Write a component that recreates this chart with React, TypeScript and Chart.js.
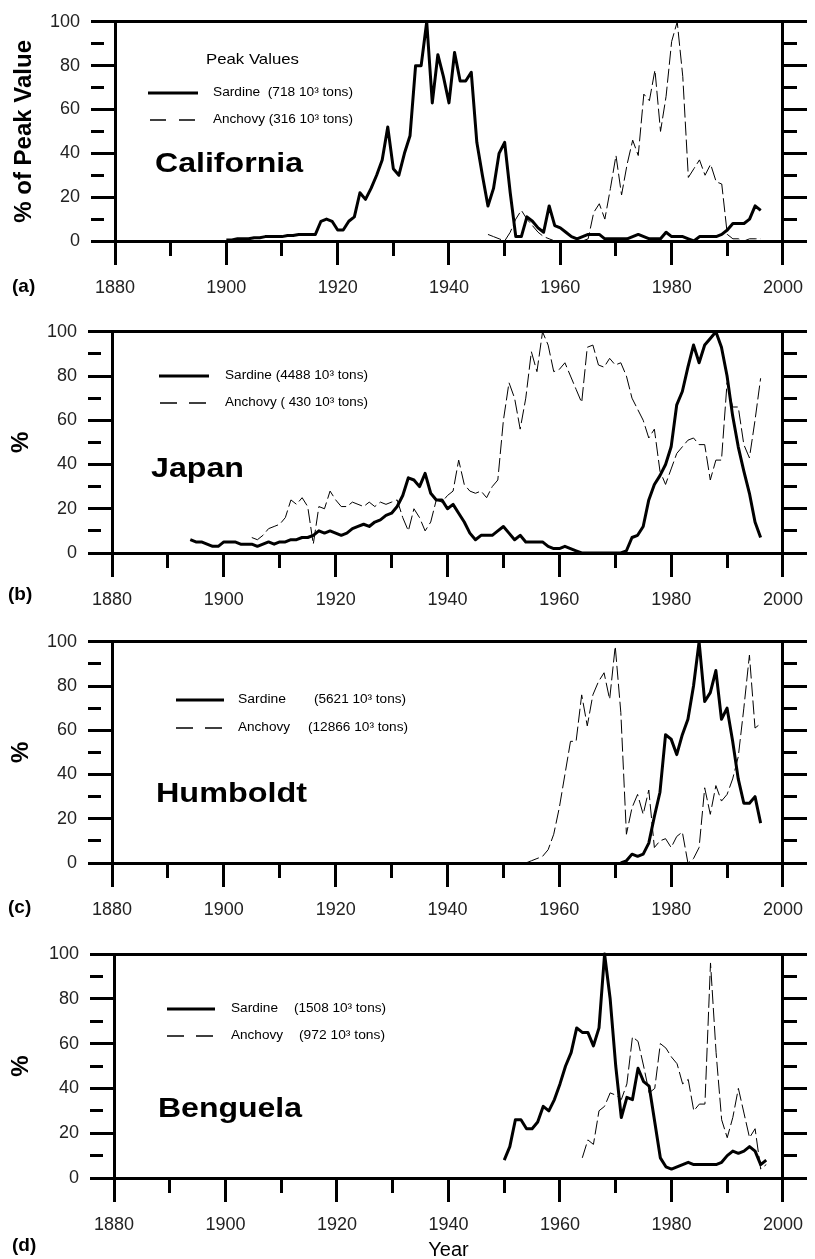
import React, { useEffect, useRef } from 'react';
import { Chart, registerables } from 'chart.js';

Chart.register(...registerables);

const FONT = '"Liberation Sans", Arial, Helvetica, sans-serif';

// ---------- axis values ----------
const X_MIN = 1880;
const X_MAX = 2000;
const X_STEP = 10;
const X_LABEL_STEP = 20;
const Y_MIN = 0;
const Y_MAX = 100;
const Y_STEP = 10;
const Y_LABEL_STEP = 20;

// ---------- (a) California ----------
const caSardineStart = 1900;
const caSardine = [
  0.5, 0.5, 1, 1, 1, 1.5, 1.5, 2, 2, 2,
  2, 2.5, 2.5, 3, 3, 3, 3, 9, 10, 9,
  5, 5, 9, 11, 22, 19, 24, 30, 37, 52,
  33, 30, 40, 48, 80, 80, 100, 63, 85, 75,
  63, 86, 73, 73, 77, 45, 30, 16, 24, 40,
  45, 22, 2, 2, 11, 9, 6, 4, 16, 7,
  6, 4, 2, 1, 2, 3, 3, 3, 1, 1,
  1, 1, 1, 2, 3, 2, 1, 1, 1, 4,
  2, 2, 2, 1, 0, 2, 2, 2, 2, 3,
  5, 8, 8, 8, 10, 16, 14,
];
const caAnchovyStart = 1947;
const caAnchovy = [
  3, 2, 1, 0, 4, 10, 14, 10, 7, 4,
  2, 1, 0, 0, 0, 0, 0, 0, 1, 13,
  17, 10, 24, 39, 21, 35, 46, 39, 67, 64,
  78, 50, 66, 91, 100, 75, 29, 33, 37, 30,
  35, 27, 26, 3, 1, 1, 0, 1, 1, 1,
];

// ---------- (b) Japan ----------
const jpSardineStart = 1894;
const jpSardine = [
  6, 5, 5, 4, 3, 3, 5, 5, 5, 4,
  4, 4, 3, 4, 5, 4, 5, 5, 6, 6,
  7, 7, 8, 10, 9, 10, 9, 8, 9, 11,
  12, 13, 12, 14, 15, 17, 18, 21, 26, 34,
  33, 30, 36, 27, 24, 24, 20, 22, 18, 14,
  9, 6, 8, 8, 8, 10, 12, 9, 6, 8,
  5, 5, 5, 5, 3, 2, 2, 3, 2, 1,
  0, 0, 0, 0, 0, 0, 0, 0, 1, 7,
  8, 12, 24, 31, 35, 40, 48, 67, 73, 84,
  94, 86, 94, 97, 100, 93, 80, 62, 48, 37,
  27, 14, 7,
];
const jpAnchovyStart = 1905;
const jpAnchovy = [
  7, 6, 8, 11, 12, 13, 16, 24, 22, 25,
  21, 4, 21, 20, 28, 24, 21, 21, 23, 22,
  21, 23, 21, 23, 22, 23, 24, 16, 10, 20,
  16, 10, 14, 24, 23, 26, 28, 42, 31, 28,
  27, 28, 25, 30, 33, 60, 77, 70, 56, 70,
  91, 82, 100, 94, 82, 83, 86, 80, 74, 68,
  93, 94, 85, 84, 88, 85, 86, 80, 70, 65,
  60, 52, 56, 37, 31, 38, 45, 48, 51, 52,
  49, 49, 33, 42, 42, 77, 66, 66, 49, 43,
  60, 79,
];

// ---------- (c) Humboldt ----------
const huSardineStart = 1971;
const huSardine = [
  0, 1, 4, 3, 4, 9, 21, 32, 58, 56,
  49, 58, 65, 80, 100, 73, 77, 87, 65, 70,
  55, 38, 27, 27, 30, 18,
];
const huAnchovyStart = 1954;
const huAnchovy = [
  0, 1, 2, 3, 6, 13, 25, 40, 55, 55,
  76, 62, 76, 82, 86, 74, 98, 68, 13, 25,
  31, 22, 33, 7, 10, 11, 7, 12, 14, 0,
  2, 7, 34, 22, 35, 28, 31, 38, 48, 70,
  94, 61, 63,
];

// ---------- (d) Benguela ----------
const beSardineStart = 1950;
const beSardine = [
  8, 14, 26, 26, 22, 22, 25, 32, 30, 35,
  42, 50, 56, 67, 65, 65, 59, 67, 100, 80,
  50, 27, 36, 35, 49, 43, 41, 25, 9, 5,
  4, 5, 6, 7, 6, 6, 6, 6, 6, 7,
  10, 12, 11, 12, 14, 12, 6, 8,
];
const beAnchovyStart = 1964;
const beAnchovy = [
  9, 17, 15, 30, 32, 38, 37, 35, 42, 63,
  61, 50, 38, 40, 60, 58, 54, 51, 42, 44,
  30, 33, 33, 96, 56, 26, 18, 27, 40, 29,
  18, 22, 4, 6,
];

// ---------- legend / label texts ----------
const legendTitleA = 'Peak Values';
const regionNames = ['California', 'Japan', 'Humboldt', 'Benguela'];
const panelLetters = ['(a)', '(b)', '(c)', '(d)'];

type TextItem = {
  text: string;
  x: number;
  y: number;
  size: number;
  bold?: boolean;
  width?: number;
  baseline?: CanvasTextBaseline;
};
type LineItem = { x1: number; x2: number; y: number; w: number; dash?: number[] };

type Panel = {
  top: number;
  height: number;
  plotTop: number;
  plotBottom: number;
  left: number;
  right: number;
  yTitle: string;
  yTitlePad: number;
  xTitle?: string;
  sardineStart: number;
  sardine: number[];
  anchovyStart: number;
  anchovy: number[];
  texts: TextItem[];
  lines: LineItem[];
};

const toPoints = (start: number, vals: number[]) =>
  vals.map((v, i) => ({ x: start + i, y: v }));

const panels: Panel[] = [
  {
    top: 0,
    height: 310,
    plotTop: 17,
    plotBottom: 241,
    left: 115,
    right: 791,
    yTitle: '% of Peak Value',
    yTitlePad: 10,
    sardineStart: caSardineStart,
    sardine: caSardine,
    anchovyStart: caAnchovyStart,
    anchovy: caAnchovy,
    texts: [
      { text: legendTitleA, x: 206, y: 60, size: 15, width: 93 },
      { text: 'Sardine  (718 10³ tons)', x: 213, y: 93, size: 12, width: 140 },
      { text: 'Anchovy (316 10³ tons)', x: 213, y: 120, size: 12, width: 140 },
      { text: regionNames[0], x: 155, y: 172, size: 28, bold: true, width: 148, baseline: 'alphabetic' },
      { text: panelLetters[0], x: 12, y: 287, size: 19, bold: true },
    ],
    lines: [
      { x1: 148, x2: 198, y: 93, w: 3 },
      { x1: 150, x2: 198, y: 120, w: 1.5, dash: [16, 13] },
    ],
  },
  {
    top: 310,
    height: 310,
    plotTop: 329,
    plotBottom: 553,
    left: 112,
    right: 789,
    yTitle: '%',
    yTitlePad: 7,
    sardineStart: jpSardineStart,
    sardine: jpSardine,
    anchovyStart: jpAnchovyStart,
    anchovy: jpAnchovy,
    texts: [
      { text: 'Sardine (4488 10³ tons)', x: 225, y: 376, size: 12, width: 143 },
      { text: 'Anchovy ( 430 10³ tons)', x: 225, y: 403, size: 12, width: 143 },
      { text: regionNames[1], x: 151, y: 477, size: 28, bold: true, width: 93, baseline: 'alphabetic' },
      { text: panelLetters[1], x: 8, y: 595, size: 19, bold: true },
    ],
    lines: [
      { x1: 159, x2: 209, y: 376, w: 3 },
      { x1: 160, x2: 209, y: 403, w: 1.5, dash: [17, 12] },
    ],
  },
  {
    top: 620,
    height: 310,
    plotTop: 639,
    plotBottom: 863,
    left: 112,
    right: 789,
    yTitle: '%',
    yTitlePad: 7,
    sardineStart: huSardineStart,
    sardine: huSardine,
    anchovyStart: huAnchovyStart,
    anchovy: huAnchovy,
    texts: [
      { text: 'Sardine', x: 238, y: 700, size: 12, width: 48 },
      { text: '(5621 10³ tons)', x: 314, y: 700, size: 12, width: 92 },
      { text: 'Anchovy', x: 238, y: 728, size: 12, width: 52 },
      { text: '(12866 10³ tons)', x: 308, y: 728, size: 12, width: 100 },
      { text: regionNames[2], x: 156, y: 802, size: 28, bold: true, width: 151, baseline: 'alphabetic' },
      { text: panelLetters[2], x: 8, y: 908, size: 19, bold: true },
    ],
    lines: [
      { x1: 176, x2: 224, y: 700, w: 3 },
      { x1: 176, x2: 224, y: 728, w: 1.5, dash: [17, 12] },
    ],
  },
  {
    top: 930,
    height: 329,
    plotTop: 954,
    plotBottom: 1178,
    left: 114,
    right: 791,
    yTitle: '%',
    yTitlePad: 7,
    xTitle: 'Year',
    sardineStart: beSardineStart,
    sardine: beSardine,
    anchovyStart: beAnchovyStart,
    anchovy: beAnchovy,
    texts: [
      { text: 'Sardine', x: 231, y: 1009, size: 12, width: 47 },
      { text: '(1508 10³ tons)', x: 294, y: 1009, size: 12, width: 92 },
      { text: 'Anchovy', x: 231, y: 1036, size: 12, width: 52 },
      { text: '(972 10³ tons)', x: 299, y: 1036, size: 12, width: 86 },
      { text: regionNames[3], x: 158, y: 1117, size: 28, bold: true, width: 144, baseline: 'alphabetic' },
      { text: panelLetters[3], x: 12, y: 1246, size: 19, bold: true },
    ],
    lines: [
      { x1: 167, x2: 215, y: 1009, w: 3 },
      { x1: 167, x2: 215, y: 1036, w: 1.5, dash: [17, 12] },
    ],
  },
];

const annotationPlugin = (p: Panel) => ({
  id: 'panelAnnotations',
  afterDraw(chart: any) {
    const ctx: CanvasRenderingContext2D = chart.ctx;
    ctx.save();
    ctx.fillStyle = '#000';
    ctx.strokeStyle = '#000';
    for (const l of p.lines) {
      ctx.beginPath();
      ctx.setLineDash(l.dash || []);
      ctx.lineWidth = l.w;
      ctx.moveTo(l.x1, l.y - p.top);
      ctx.lineTo(l.x2, l.y - p.top);
      ctx.stroke();
    }
    ctx.setLineDash([]);
    for (const t of p.texts) {
      ctx.font = `${t.bold ? 'bold ' : ''}${t.size}px ${FONT}`;
      ctx.textBaseline = t.baseline || 'middle';
      ctx.textAlign = 'left';
      const w = ctx.measureText(t.text).width;
      const sx = t.width ? t.width / w : 1;
      ctx.save();
      ctx.translate(t.x, t.y - p.top);
      ctx.scale(sx, 1);
      ctx.fillText(t.text, 0, 0);
      ctx.restore();
    }
    ctx.restore();
  },
});

const tickFont = { family: FONT, size: 18, weight: 'normal' as const };

const minorDash = (labelStep: number) => (ctx: any) =>
  ctx.tick && Math.round(ctx.tick.value) % labelStep !== 0 ? [13, 200] : [];

const gridOpts = (labelStep: number) => ({
  display: true,
  drawOnChartArea: false,
  drawTicks: true,
  tickLength: 24,
  tickWidth: 3,
  tickColor: '#000',
  lineWidth: 3,
  color: '#000',
  tickBorderDash: minorDash(labelStep),
});

const borderOpts = { display: true, color: '#000', width: 3 };

function makeConfig(p: Panel): any {
  return {
    type: 'line',
    data: {
      datasets: [
        {
          label: 'Sardine',
          data: toPoints(p.sardineStart, p.sardine),
          borderColor: '#000',
          backgroundColor: '#000',
          borderWidth: 3,
          pointRadius: 0,
          tension: 0,
          fill: false,
          borderJoinStyle: 'round',
          clip: 4,
        },
        {
          label: 'Anchovy',
          data: toPoints(p.anchovyStart, p.anchovy),
          borderColor: '#000',
          backgroundColor: '#000',
          borderWidth: 1,
          borderDash: [14, 4],
          pointRadius: 0,
          tension: 0,
          fill: false,
          clip: 4,
        },
      ],
    },
    options: {
      animation: false,
      responsive: false,
      maintainAspectRatio: false,
      devicePixelRatio: 1,
      events: [],
      layout: { padding: 0 },
      plugins: {
        legend: { display: false },
        tooltip: { enabled: false },
        title: { display: false },
      },
      scales: {
        x: {
          type: 'linear',
          position: 'bottom',
          min: X_MIN,
          max: X_MAX,
          afterFit: (s: any) => {
            s.height = p.top + p.height - p.plotBottom;
          },
          ticks: {
            stepSize: X_STEP,
            autoSkip: false,
            maxRotation: 0,
            minRotation: 0,
            padding: 12,
            color: '#222',
            font: tickFont,
            callback: (v: number) => (Math.round(v) % X_LABEL_STEP === 0 ? String(v) : ''),
          },
          grid: gridOpts(X_LABEL_STEP),
          border: borderOpts,
          title: p.xTitle
            ? {
                display: true,
                text: p.xTitle,
                color: '#000',
                font: { family: FONT, size: 20, lineHeight: 0.9 },
                padding: { top: 0, bottom: 0 },
              }
            : { display: false },
        },
        xTop: {
          type: 'linear',
          position: 'top',
          min: X_MIN,
          max: X_MAX,
          afterFit: (s: any) => {
            s.height = p.plotTop - p.top;
          },
          ticks: { display: false },
          grid: { display: false, drawTicks: false },
          border: borderOpts,
        },
        y: {
          type: 'linear',
          position: 'left',
          min: Y_MIN,
          max: Y_MAX,
          afterFit: (s: any) => {
            s.width = p.left;
          },
          ticks: {
            stepSize: Y_STEP,
            autoSkip: false,
            padding: 11,
            color: '#222',
            font: tickFont,
            callback: (v: number) => (Math.round(v) % Y_LABEL_STEP === 0 ? String(v) : ''),
          },
          grid: gridOpts(Y_LABEL_STEP),
          border: borderOpts,
          title: {
            display: true,
            text: p.yTitle,
            color: '#000',
            font: { family: FONT, size: 24, weight: 'bold' },
            padding: { top: p.yTitlePad, bottom: 0 },
          },
        },
        yRight: {
          type: 'linear',
          position: 'right',
          min: Y_MIN,
          max: Y_MAX,
          afterFit: (s: any) => {
            s.width = 815 - p.right;
          },
          ticks: {
            stepSize: Y_STEP,
            autoSkip: false,
            padding: 0,
            font: tickFont,
            callback: () => '',
          },
          grid: gridOpts(Y_LABEL_STEP),
          border: borderOpts,
        },
      },
    },
    plugins: [annotationPlugin(p)],
  };
}

function PanelChart({ p }: { p: Panel }) {
  const ref = useRef<HTMLCanvasElement | null>(null);
  useEffect(() => {
    if (!ref.current) return;
    const chart = new Chart(ref.current, makeConfig(p));
    return () => chart.destroy();
  }, [p]);
  return (
    <canvas
      ref={ref}
      width={815}
      height={p.height}
      style={{
        position: 'absolute',
        left: 0,
        top: p.top,
        width: 815,
        height: p.height,
        display: 'block',
      }}
    />
  );
}

export default function App() {
  return (
    <div
      style={{
        position: 'absolute',
        left: 0,
        top: 0,
        width: 815,
        height: 1259,
        background: '#fff',
        overflow: 'hidden',
      }}
    >
      {panels.map((p, i) => (
        <PanelChart key={i} p={p} />
      ))}
    </div>
  );
}
